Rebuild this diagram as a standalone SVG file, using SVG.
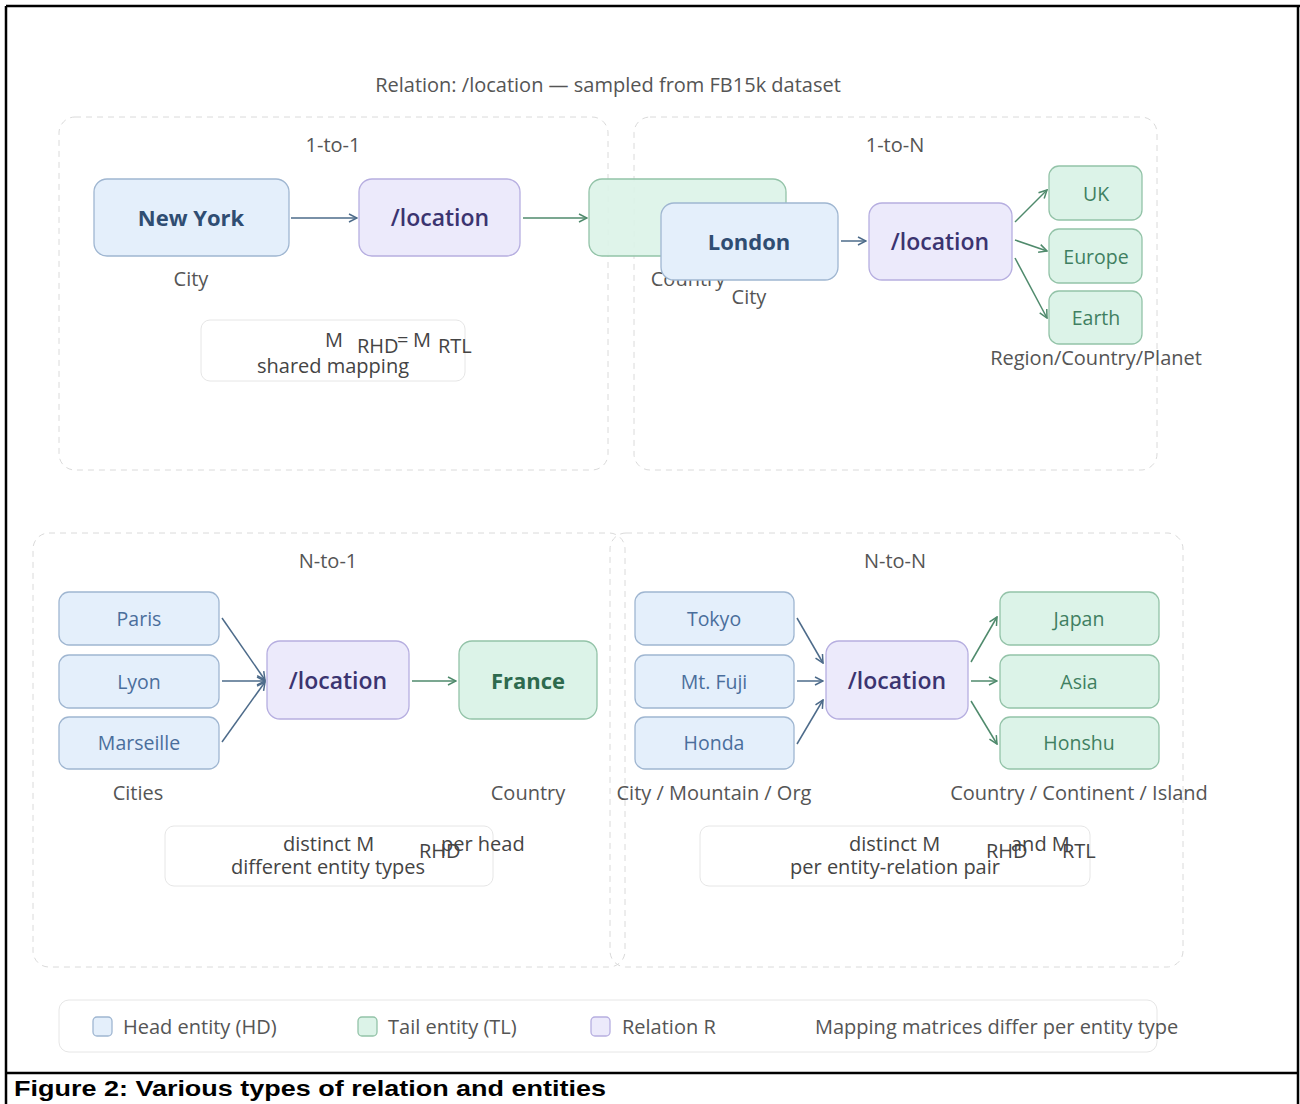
<svg xmlns="http://www.w3.org/2000/svg" width="1300" height="1104" viewBox="0 0 1300 1104">
<defs>
<style>
text{font-family:"Open Sans","Noto Sans","Liberation Sans",sans-serif}
.panel{fill:none;stroke:#dadada;stroke-width:1;stroke-dasharray:6 5}
.hd{fill:#e4effb;stroke:#9fb6d1;stroke-width:1.3}
.tl{fill:#dcf3e8;stroke:#93c3a8;stroke-width:1.3}
.rel{fill:#eceafb;stroke:#b6aee0;stroke-width:1.3}
.note{fill:#fff;stroke:#e6e6e6;stroke-width:1}
.big{font-size:22px;font-weight:700;text-anchor:middle}
.relt{font-size:23px;font-weight:600;text-anchor:middle;fill:#3b3470}
.sm{font-size:19.5px;text-anchor:middle}
.hdt{fill:#2f4d72}
.hds{fill:#4a6e9c}
.tlt{fill:#2e6a4e}
.tls{fill:#3f7f61}
.lab{font-size:20px;fill:#555;text-anchor:middle}
.ttl{font-size:20px;fill:#555;text-anchor:middle}
.nt{font-size:20px;fill:#444}
.lg{font-size:20px;fill:#555}
.cb{fill:none;stroke:#4d6b8a;stroke-width:1.5}
.cg{fill:none;stroke:#4f8a6c;stroke-width:1.5}
</style>
<marker id="ab" viewBox="0 0 10 10" refX="9" refY="5" markerWidth="10" markerHeight="10" markerUnits="userSpaceOnUse" orient="auto"><path d="M1,1 L9,5 L1,9" fill="none" stroke="#4d6b8a" stroke-width="1.5"/></marker>
<marker id="ag" viewBox="0 0 10 10" refX="9" refY="5" markerWidth="10" markerHeight="10" markerUnits="userSpaceOnUse" orient="auto"><path d="M1,1 L9,5 L1,9" fill="none" stroke="#4f8a6c" stroke-width="1.5"/></marker>
</defs>
<rect width="1300" height="1104" fill="#fff"/>
<g id="frame" fill="none" stroke="#000" stroke-width="2.5">
<line x1="6" y1="6" x2="1300" y2="6"/>
<line x1="6" y1="6" x2="6" y2="1104"/>
<line x1="1298" y1="6" x2="1298" y2="1104"/>
<line x1="6" y1="1073" x2="1298" y2="1073"/>
</g>
<text x="14" y="1096" style="font-family:'Liberation Sans',Arial,sans-serif" font-size="22" font-weight="700" fill="#000" textLength="592" lengthAdjust="spacingAndGlyphs">Figure 2: Various types of relation and entities</text>
<text x="608" y="92" class="ttl">Relation: /location — sampled from FB15k dataset</text>

<g id="panels">
<rect class="panel" x="59" y="117" width="549" height="353" rx="16"/>
<rect class="panel" x="634" y="117" width="523" height="353" rx="16"/>
<rect class="panel" x="33" y="533" width="592" height="434" rx="16"/>
<rect class="panel" x="610" y="533" width="573" height="434" rx="16"/>
<text class="ttl" x="333" y="152">1-to-1</text>
<text class="ttl" x="895" y="152">1-to-N</text>
<text class="ttl" x="328" y="568">N-to-1</text>
<text class="ttl" x="895" y="568">N-to-N</text>
</g>

<g id="connectors">
<line class="cb" x1="291" y1="218" x2="357" y2="218" marker-end="url(#ab)"/>
<line class="cg" x1="523" y1="218" x2="587" y2="218" marker-end="url(#ag)"/>
<line class="cb" x1="841" y1="241" x2="866" y2="241" marker-end="url(#ab)"/>
<line class="cg" x1="1015" y1="222" x2="1047" y2="190" marker-end="url(#ag)"/>
<line class="cg" x1="1015" y1="240" x2="1047" y2="251" marker-end="url(#ag)"/>
<line class="cg" x1="1015" y1="258" x2="1047" y2="318" marker-end="url(#ag)"/>
<line class="cb" x1="222" y1="618" x2="265" y2="680" marker-end="url(#ab)"/>
<line class="cb" x1="222" y1="681" x2="265" y2="681" marker-end="url(#ab)"/>
<line class="cb" x1="222" y1="742" x2="265" y2="682" marker-end="url(#ab)"/>
<line class="cg" x1="412" y1="681" x2="456" y2="681" marker-end="url(#ag)"/>
<line class="cb" x1="797" y1="618" x2="823" y2="663" marker-end="url(#ab)"/>
<line class="cb" x1="797" y1="681" x2="823" y2="681" marker-end="url(#ab)"/>
<line class="cb" x1="797" y1="744" x2="823" y2="700" marker-end="url(#ab)"/>
<line class="cg" x1="971" y1="662" x2="997" y2="617" marker-end="url(#ag)"/>
<line class="cg" x1="971" y1="681" x2="997" y2="681" marker-end="url(#ag)"/>
<line class="cg" x1="971" y1="701" x2="997" y2="744" marker-end="url(#ag)"/>
</g>

<g id="p1-newyork"><rect class="hd" x="94" y="179" width="195" height="77" rx="13"/><text class="big hdt" x="191" y="226">New York</text><text class="lab" x="191" y="286">City</text></g>
<g id="p1-location"><rect class="rel" x="359" y="179" width="161" height="77" rx="13"/><text class="relt" x="440" y="226">/location</text></g>
<g id="p1-tail"><rect class="tl" x="589" y="179" width="197" height="77" rx="13" fill-opacity="0.9"/><text class="lab" x="688" y="286">Country</text></g>
<g id="p1-note"><rect class="note" x="201" y="320" width="264" height="61" rx="9"/>
<text class="nt" x="325" y="347">M</text><text class="nt" x="357" y="353">RHD</text><text class="nt" x="397" y="347">=</text><text class="nt" x="413" y="347">M</text><text class="nt" x="438" y="353">RTL</text>
<text class="nt" x="333" y="373" text-anchor="middle">shared mapping</text></g>

<g id="p2-london"><rect class="hd" x="661" y="203" width="177" height="77" rx="13"/><text class="big hdt" x="749" y="250">London</text><text class="lab" x="749" y="304">City</text></g>
<g id="p2-location"><rect class="rel" x="869" y="203" width="143" height="77" rx="13"/><text class="relt" x="940" y="250">/location</text></g>
<g id="p2-uk"><rect class="tl" x="1049" y="166" width="93" height="54" rx="10"/><text class="sm tls" x="1096" y="201">UK</text></g>
<g id="p2-europe"><rect class="tl" x="1049" y="229" width="93" height="54" rx="10"/><text class="sm tls" x="1096" y="264">Europe</text></g>
<g id="p2-earth"><rect class="tl" x="1049" y="291" width="93" height="53" rx="10"/><text class="sm tls" x="1096" y="325">Earth</text></g>
<text class="lab" x="1096" y="365">Region/Country/Planet</text>

<g id="p3-paris"><rect class="hd" x="59" y="592" width="160" height="53" rx="10"/><text class="sm hds" x="139" y="626">Paris</text></g>
<g id="p3-lyon"><rect class="hd" x="59" y="655" width="160" height="53" rx="10"/><text class="sm hds" x="139" y="689">Lyon</text></g>
<g id="p3-marseille"><rect class="hd" x="59" y="717" width="160" height="52" rx="10"/><text class="sm hds" x="139" y="750">Marseille</text></g>
<g id="p3-location"><rect class="rel" x="267" y="641" width="142" height="78" rx="13"/><text class="relt" x="338" y="689">/location</text></g>
<g id="p3-france"><rect class="tl" x="459" y="641" width="138" height="78" rx="13"/><text class="big tlt" x="528" y="689">France</text></g>
<text class="lab" x="138" y="800">Cities</text>
<text class="lab" x="528" y="800">Country</text>
<g id="p3-note"><rect class="note" x="165" y="826" width="328" height="60" rx="9"/>
<text class="nt" x="283" y="851">distinct M</text><text class="nt" x="441" y="851">per head</text><text class="nt" x="419" y="858">RHD</text>
<text class="nt" x="328" y="874" text-anchor="middle">different entity types</text></g>

<g id="p4-tokyo"><rect class="hd" x="635" y="592" width="159" height="53" rx="10"/><text class="sm hds" x="714" y="626">Tokyo</text></g>
<g id="p4-fuji"><rect class="hd" x="635" y="655" width="159" height="53" rx="10"/><text class="sm hds" x="714" y="689">Mt. Fuji</text></g>
<g id="p4-honda"><rect class="hd" x="635" y="717" width="159" height="52" rx="10"/><text class="sm hds" x="714" y="750">Honda</text></g>
<g id="p4-location"><rect class="rel" x="826" y="641" width="142" height="78" rx="13"/><text class="relt" x="897" y="689">/location</text></g>
<g id="p4-japan"><rect class="tl" x="1000" y="592" width="159" height="53" rx="10"/><text class="sm tls" x="1079" y="626">Japan</text></g>
<g id="p4-asia"><rect class="tl" x="1000" y="655" width="159" height="53" rx="10"/><text class="sm tls" x="1079" y="689">Asia</text></g>
<g id="p4-honshu"><rect class="tl" x="1000" y="717" width="159" height="52" rx="10"/><text class="sm tls" x="1079" y="750">Honshu</text></g>
<text class="lab" x="714" y="800">City / Mountain / Org</text>
<text class="lab" x="1079" y="800">Country / Continent / Island</text>
<g id="p4-note"><rect class="note" x="700" y="826" width="390" height="60" rx="9"/>
<text class="nt" x="849" y="851">distinct M</text><text class="nt" x="1011" y="851">and M</text><text class="nt" x="986" y="858">RHD</text><text class="nt" x="1062" y="858">RTL</text>
<text class="nt" x="895" y="874" text-anchor="middle">per entity-relation pair</text></g>

<g id="legend"><rect class="note" x="59" y="1000" width="1098" height="52" rx="10" stroke="#ececec"/>
<rect class="hd" x="93" y="1017" width="19" height="19" rx="4"/><text class="lg" x="123" y="1034">Head entity (HD)</text>
<rect class="tl" x="358" y="1017" width="19" height="19" rx="4"/><text class="lg" x="388" y="1034">Tail entity (TL)</text>
<rect class="rel" x="591" y="1017" width="19" height="19" rx="4"/><text class="lg" x="622" y="1034">Relation R</text>
<text class="lg" x="815" y="1034">Mapping matrices differ per entity type</text></g>
</svg>
